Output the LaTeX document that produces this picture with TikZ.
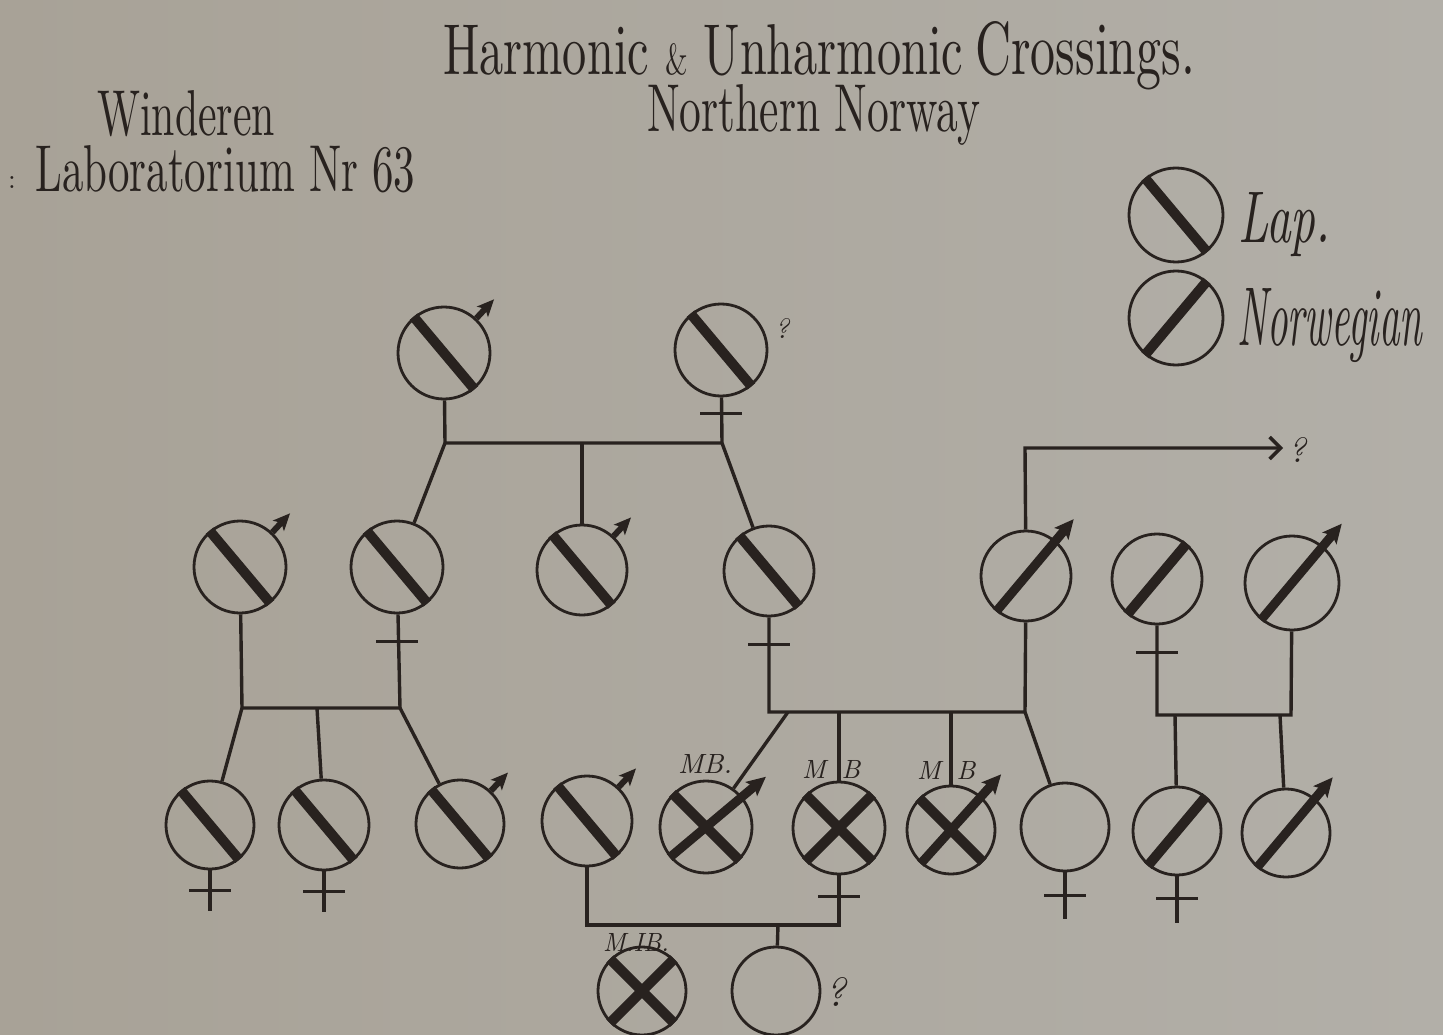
\documentclass[tikz,border=0pt]{standalone}
\usepackage{graphicx}
\usetikzlibrary{arrows.meta,calc}
\definecolor{paper}{RGB}{168,162,151}
\definecolor{paperR}{RGB}{178,175,168}
\definecolor{ink}{RGB}{40,34,31}
\tikzset{
  person/.style={circle, draw=ink, line width=2.8pt, inner sep=0pt, minimum size=#1},
  person/.default=90pt,
  conn/.style={draw=ink, line width=3.4pt},
  band/.style={draw=ink, line width=10pt},
  lapmale/.style={draw=ink, line width=6pt, -{Stealth[length=17pt,width=15pt,inset=4pt]}},
  normale/.style={draw=ink, line width=9pt, -{Stealth[length=19pt,width=18pt,inset=4pt]}},
  txt/.style={inner sep=0pt, text=ink},
}
\newcommand\lapband[1]{\draw[band] (#1.130) -- (#1.310);}
\newcommand\norband[1]{\draw[band] (#1.230) -- (#1.50);}
\newcommand\normarrow[1]{\draw[normale] (#1.230) -- ($(#1)!1.6!(#1.50)$);}
\newcommand\lapmarrow[1]{\draw[lapmale] (#1.47) -- ($(#1)!1.55!(#1.47)$);}
\newcommand\xcross[1]{\draw[band] (#1.135) -- (#1.315); \draw[band] (#1.225) -- (#1.45);}
\newcommand\xmale[3]{\draw[band] (#1.135) -- (#1.315); \draw[normale] (#1.#2) -- ($(#1)!1.65!(#1.#3)$);}
\newcommand\fembar[2]{\draw[conn] ($(#1.south)+(-21,#2)$) -- ++(42,0);}
\newcommand\femstem[3]{\draw[conn] (#1.south) -- ++(0,#3); \fembar{#1}{#2}}
\begin{document}
\begin{tikzpicture}[x=1pt,y=-1pt]
\fill[left color=paper, right color=paperR] (0,0) rectangle (1443,1035);
\useasboundingbox (0,0) rectangle (1443,1035);

% ---- texts
\node[txt, anchor=base west] (title) at (443,75) {\resizebox{520pt}{50pt}{Harmonic \scalebox{0.6}{\&} Unharmonic}};
\node[txt, anchor=base west] (title2) at (975,75) {\resizebox{220pt}{53pt}{Crossings.}};
\node[txt, anchor=base west] (sub) at (647,132) {\resizebox{333pt}{47pt}{Northern Norway}};
\node[txt, anchor=base west] (wind) at (97,136) {\resizebox{178pt}{45pt}{Winderen}};
\node[txt, anchor=base west] (lab) at (35,192) {\resizebox{380pt}{46pt}{Laboratorium Nr 63}};
\node[txt] (colon) at (12,183) {\resizebox{!}{12pt}{:}};
\node[txt, anchor=base west] (laptxt) at (1238,242) {\resizebox{92pt}{50pt}{\itshape Lap.}};
\node[txt, anchor=base west] (nortxt) at (1237,345) {\resizebox{185pt}{57pt}{\itshape Norwegian}};

% ---- legend
\node[person=94pt] (LgL) at (1176,215) {};
\node[person=94pt] (LgN) at (1176,318) {};
\lapband{LgL}
\norband{LgN}

% ---- persons
\node[person=92pt] (F0) at (444,353) {};
\node[person=92pt] (M0) at (721,350) {};
\node[person=92pt] (A) at (240,567) {};
\node[person=92pt] (B) at (397,567) {};
\node[person=90pt] (C) at (582,570) {};
\node[person=90pt] (D) at (769,571) {};
\node[person=90pt] (E) at (1026,576) {};
\node[person=90pt] (F) at (1157,579) {};
\node[person=94pt] (G) at (1292,583) {};
\node[person=88pt] (H1) at (210,825) {};
\node[person=90pt] (H2) at (324,825) {};
\node[person=88pt] (H3) at (460,824) {};
\node[person=90pt] (H4) at (587,821) {};
\node[person=92pt] (X1) at (706,827) {};
\node[person=92pt] (X2) at (839,828) {};
\node[person=88pt] (X3) at (951,830) {};
\node[person=88pt] (X4) at (1065,827) {};
\node[person=88pt] (X5) at (1177,831) {};
\node[person=88pt] (X6) at (1286,833) {};
\node[person=88pt] (Y1) at (642,991) {};
\node[person=88pt] (Y2) at (776,991) {};

% ---- junctions
\coordinate (J0L) at (445,443);
\coordinate (J0M) at (582,443);
\coordinate (J0R) at (722,443);
\coordinate (J1a) at (242,708);
\coordinate (J1b) at (317,708);
\coordinate (J1c) at (400,708);
\coordinate (J2D) at (769,712);
\coordinate (J2a) at (788,712);
\coordinate (J2b) at (839,712);
\coordinate (J2c) at (951,712);
\coordinate (J2E) at (1025,712);
\coordinate (J3F) at (1157,715);
\coordinate (J3a) at (1175,715);
\coordinate (J3b) at (1280,715);
\coordinate (J3G) at (1291,715);
\coordinate (J4L) at (587,925);
\coordinate (J4m) at (778,925);
\coordinate (J4R) at (839,925);
\coordinate (Eup) at (1025,448);
\coordinate (Eend) at (1283,448);

% ---- connectors
\draw[conn] (F0) -- (J0L) -- (J0R) -- (M0);
\draw[conn] (J0M) -- (C);
\draw[conn] (J0L) -- (B);
\draw[conn] (J0R) -- (D);
\draw[conn] (A) -- (J1a) -- (J1c) -- (B);
\draw[conn] (J1a) -- (H1);
\draw[conn] (J1b) -- (H2);
\draw[conn] (J1c) -- (H3);
\draw[conn] (D) -- (J2D) -- (J2E) -- (E);
\draw[conn] (J2a) -- (X1);
\draw[conn] (J2b) -- (X2);
\draw[conn] (J2c) -- (X3);
\draw[conn] (J2E) -- (X4);
\draw[conn] (F) -- (J3F) -- (J3G) -- (G);
\draw[conn] (J3a) -- (X5);
\draw[conn] (J3b) -- (X6);
\draw[conn] (H4) -- (J4L) -- (J4R) -- (X2);
\draw[conn] (J4m) -- (Y2);
\draw[conn, -{Straight Barb[length=11pt,width=22pt]}] (E) -- (Eup) -- (Eend);

% ---- female signs
\fembar{M0}{16}
\fembar{B}{27}
\fembar{D}{27}
\fembar{F}{27}
\femstem{H1}{20}{41}
\femstem{H2}{20}{41}
\fembar{X2}{21}
\femstem{X4}{23}{47}
\femstem{X5}{22}{47}

% ---- markings
\lapband{F0} \lapmarrow{F0}
\lapband{M0}
\lapband{A} \lapmarrow{A}
\lapband{B}
\lapband{C} \lapmarrow{C}
\lapband{D}
\normarrow{E}
\norband{F}
\normarrow{G}
\lapband{H1}
\lapband{H2}
\lapband{H3} \lapmarrow{H3}
\lapband{H4} \lapmarrow{H4}
\xmale{X1}{220}{40}
\xcross{X2}
\xmale{X3}{228}{48}
\norband{X5}
\normarrow{X6}
\xcross{Y1}

% ---- small labels
\node[txt] (q1) at (782,328) {\resizebox{!}{20pt}{\itshape ?}};
\node[txt] (q2) at (1297,450) {\resizebox{!}{25pt}{\itshape ?}};
\node[txt] (q3) at (836,992) {\resizebox{!}{29pt}{\itshape ?}};
\node[txt, anchor=base] (mb1) at (705,773) {\resizebox{54pt}{19pt}{\itshape MB.}};
\node[txt, anchor=base] (m2) at (814,778) {\resizebox{!}{18pt}{\itshape M}};
\node[txt, anchor=base] (b2) at (851,778) {\resizebox{!}{18pt}{\itshape B}};
\node[txt, anchor=base] (m3) at (929,779) {\resizebox{!}{18pt}{\itshape M}};
\node[txt, anchor=base] (b3) at (966,779) {\resizebox{!}{18pt}{\itshape B}};
\node[txt, anchor=base] (mb4) at (636,951) {\resizebox{66pt}{18pt}{\itshape M.IB.}};
\end{tikzpicture}
\end{document}
